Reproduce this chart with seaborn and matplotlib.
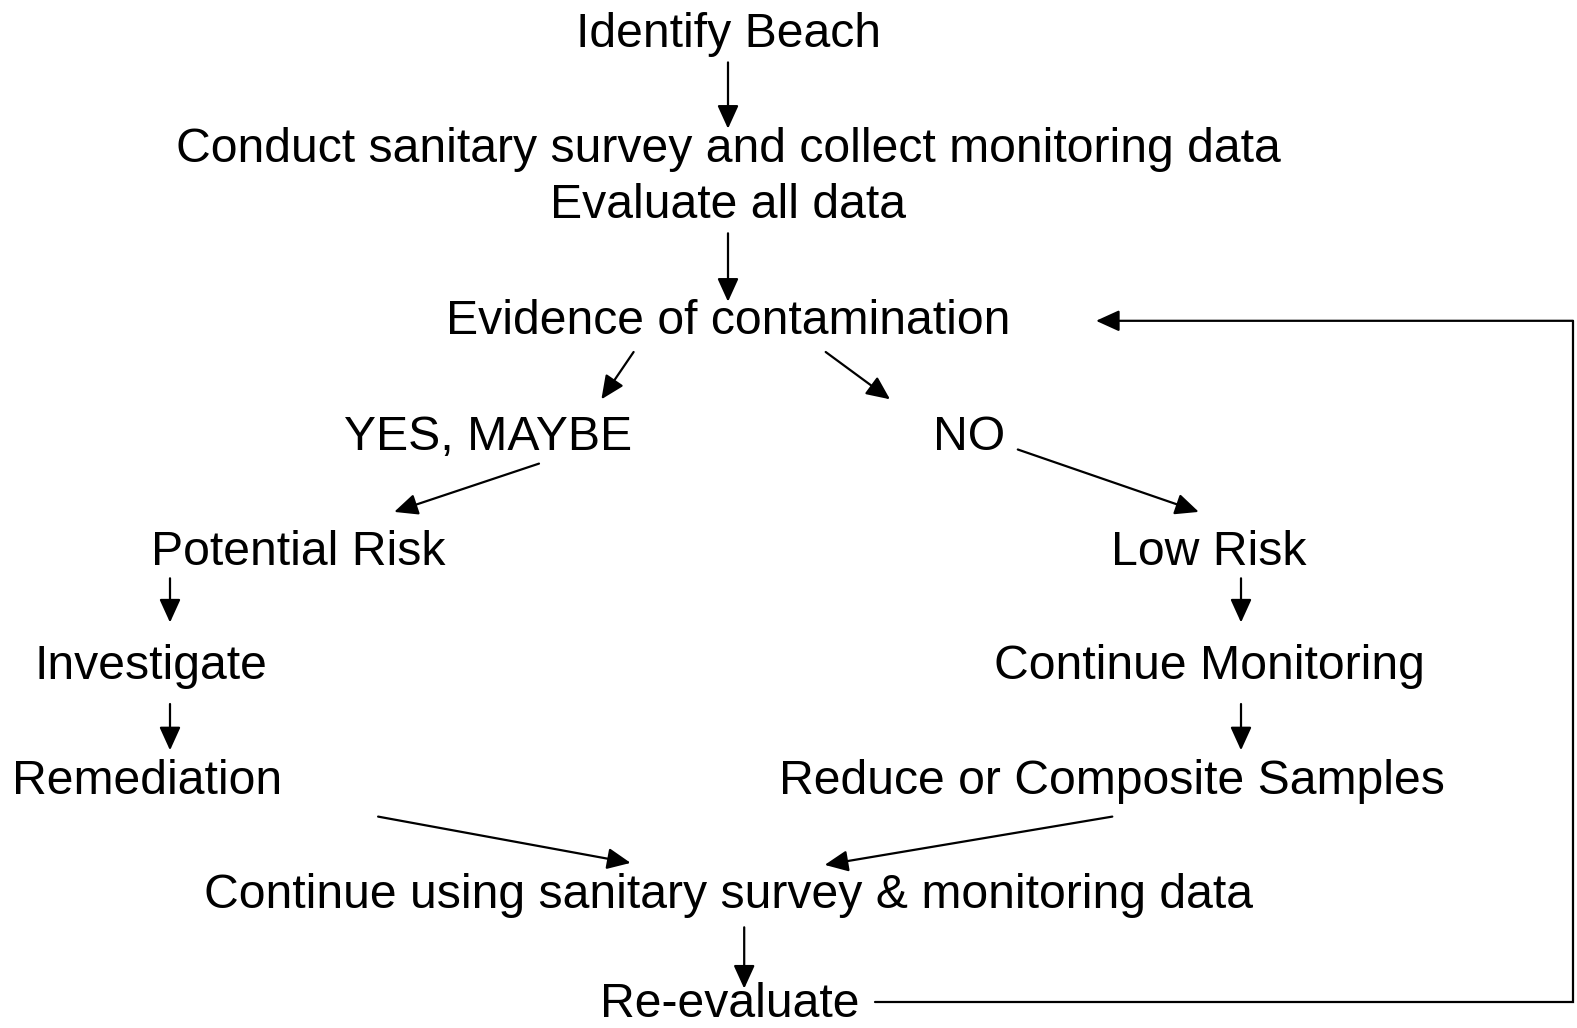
import matplotlib
matplotlib.use("Agg")
import matplotlib.pyplot as plt
from matplotlib.patches import FancyArrowPatch
import seaborn as sns

sns.set_theme(style="white")
plt.rcParams['font.family'] = ['Liberation Sans', 'DejaVu Sans']

W, H = 1577, 1028

# node labels and positions (pixel coordinates, y = text baseline)
labels = ["Identify Beach",
          "Conduct sanitary survey and collect monitoring data",
          "Evaluate all data",
          "Evidence of contamination",
          "YES, MAYBE", "NO",
          "Potential Risk", "Low Risk",
          "Investigate", "Continue Monitoring",
          "Remediation", "Reduce or Composite Samples",
          "Continue using sanitary survey & monitoring data",
          "Re-evaluate"]
label_x = [728, 728, 728, 728, 488, 969.5, 298, 1209, 151, 1209, 147, 1112, 728, 730]
label_y = [46.7, 161.7, 218.5, 334.3, 450, 450, 564.6, 564.6, 679, 679, 794, 794, 908.5, 1017]

# arrows: start (x, y) -> end (x, y)
arrow_x0 = [728, 728, 633.6, 825.7, 539, 1017.8, 1241, 1241, 170, 170, 378.1, 1112.3, 744.2]
arrow_y0 = [62.4, 233.3, 352, 352, 463.6, 449.5, 578.3, 704, 578.3, 704, 816.6, 816.6, 927.3]
arrow_x1 = [728, 728, 601.4, 890, 394.2, 1198.8, 1241, 1241, 170, 170, 630.6, 824.7, 744.2]
arrow_y1 = [128.7, 301.7, 399.3, 399.3, 511.9, 511.9, 622.5, 750.3, 622.5, 750.3, 862.9, 864.9, 988.6]

# feedback loop polyline
loop_x = [875, 1573, 1573, 1096]
loop_y = [1001.7, 1001.7, 320.8, 320.8]

STYLE = "-|>,head_length=0.55,head_width=0.25"

fig = plt.figure(figsize=(W / 100, H / 100), dpi=100)
ax = fig.add_axes([0, 0, 1, 1])
ax.set_xlim(0, W)
ax.set_ylim(H, 0)
ax.axis("off")

for t, x, y in zip(labels, label_x, label_y):
    ax.text(x, y, t, ha="center", va="baseline", fontsize=34.7, color="black")

for x0, y0, x1, y1 in zip(arrow_x0, arrow_y0, arrow_x1, arrow_y1):
    ax.add_patch(FancyArrowPatch((x0, y0), (x1, y1),
                                 arrowstyle=STYLE, mutation_scale=26, lw=1.6,
                                 color="black", shrinkA=0, shrinkB=0))

ax.plot(loop_x[:-1], loop_y[:-1], color="black", lw=1.6, solid_joinstyle="miter")
ax.add_patch(FancyArrowPatch((loop_x[-2], loop_y[-2]), (loop_x[-1], loop_y[-1]),
                             arrowstyle=STYLE, mutation_scale=26, lw=1.6,
                             color="black", shrinkA=0, shrinkB=0))

fig.savefig("out.png", dpi=100, facecolor="white")
